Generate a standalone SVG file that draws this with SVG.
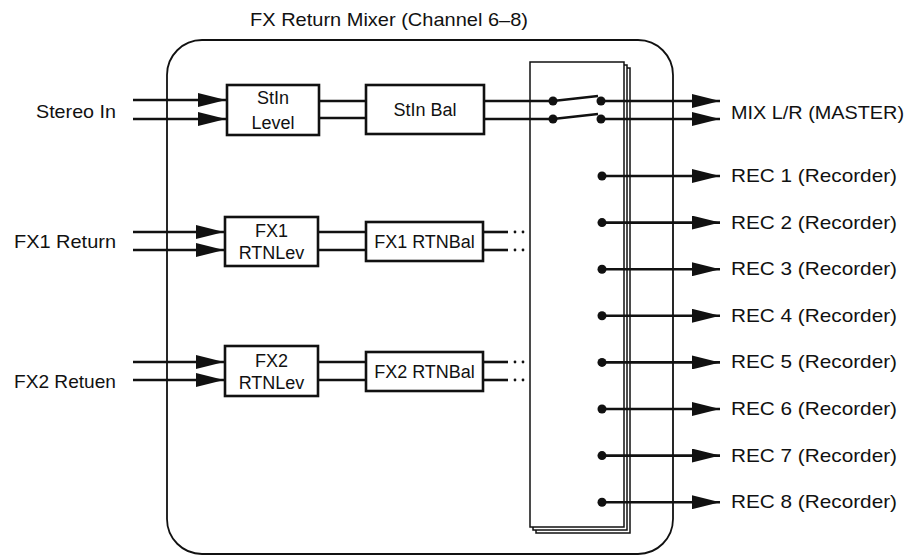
<svg xmlns="http://www.w3.org/2000/svg" width="908" height="555" viewBox="0 0 908 555">
<defs>
<style>
text{font-family:"Liberation Sans",Arial,Helvetica,sans-serif;fill:#111}
.lbl{font-size:19px}
.bx{font-size:18px;text-anchor:middle}
.box{fill:#fff;stroke:#111;stroke-width:2.6}
.sig{stroke:#111;stroke-width:2.6;fill:none}
.page{fill:#fff;stroke:#111;stroke-width:1.5}
.dot{fill:#111}
.arr{fill:#111}
</style>
<marker id="ah" viewBox="0 0 28 14" refX="28" refY="7" markerWidth="28" markerHeight="14" markerUnits="userSpaceOnUse" orient="auto">
<path d="M0,0 L28,7 L0,14 Z" class="arr"/>
</marker>
</defs>
<rect width="908" height="555" fill="#fff"/>
<text class="lbl" x="250" y="26" textLength="278" lengthAdjust="spacingAndGlyphs">FX Return Mixer (Channel 6–8)</text>
<g id="mixer">
<rect x="167" y="40" width="506" height="514" rx="35" ry="35" fill="none" stroke="#111" stroke-width="1.8"/>
</g>
<g id="bus">
<rect class="page" x="536" y="68" width="94" height="465"/>
<rect class="page" x="533" y="65" width="94" height="465"/>
<rect class="page" x="530" y="62" width="94" height="465"/>
</g>
<g id="labels">
<text class="lbl" x="116" y="118" text-anchor="end" textLength="80" lengthAdjust="spacingAndGlyphs">Stereo In</text>
<text class="lbl" x="116" y="248" text-anchor="end" textLength="102" lengthAdjust="spacingAndGlyphs">FX1 Return</text>
<text class="lbl" x="116" y="388" text-anchor="end" textLength="102" lengthAdjust="spacingAndGlyphs">FX2 Retuen</text>
</g>
<g id="connectors">
<!-- inputs -->
<line class="sig" x1="133" y1="100" x2="226" y2="100" marker-end="url(#ah)"/>
<line class="sig" x1="133" y1="119" x2="226" y2="119" marker-end="url(#ah)"/>
<line class="sig" x1="133" y1="232" x2="224" y2="232" marker-end="url(#ah)"/>
<line class="sig" x1="133" y1="250" x2="224" y2="250" marker-end="url(#ah)"/>
<line class="sig" x1="133" y1="362" x2="224" y2="362" marker-end="url(#ah)"/>
<line class="sig" x1="133" y1="380" x2="224" y2="380" marker-end="url(#ah)"/>
<!-- level to bal -->
<line class="sig" x1="319" y1="101" x2="366" y2="101"/>
<line class="sig" x1="319" y1="118" x2="366" y2="118"/>
<line class="sig" x1="318" y1="232" x2="366" y2="232"/>
<line class="sig" x1="318" y1="250" x2="366" y2="250"/>
<line class="sig" x1="318" y1="362" x2="366" y2="362"/>
<line class="sig" x1="318" y1="380" x2="366" y2="380"/>
<!-- bal out -->
<line class="sig" x1="484" y1="101" x2="553" y2="101"/>
<line class="sig" x1="484" y1="119" x2="553" y2="119"/>
<line class="sig" x1="483" y1="232" x2="508" y2="232"/>
<line class="sig" x1="483" y1="250" x2="508" y2="250"/>
<line class="sig" x1="483" y1="362" x2="508" y2="362"/>
<line class="sig" x1="483" y1="380" x2="508" y2="380"/>
<circle class="dot" cx="515" cy="232" r="1.4"/><circle class="dot" cx="523" cy="232" r="1.4"/>
<circle class="dot" cx="515" cy="250" r="1.4"/><circle class="dot" cx="523" cy="250" r="1.4"/>
<circle class="dot" cx="515" cy="362" r="1.4"/><circle class="dot" cx="523" cy="362" r="1.4"/>
<circle class="dot" cx="515" cy="380" r="1.4"/><circle class="dot" cx="523" cy="380" r="1.4"/>
<!-- switch -->
<circle class="dot" cx="553" cy="101" r="4.5"/>
<circle class="dot" cx="553" cy="119" r="4.5"/>
<line class="sig" x1="553" y1="101" x2="598" y2="96"/>
<line class="sig" x1="553" y1="119" x2="598" y2="114"/>
<circle class="dot" cx="601" cy="101" r="4.5"/>
<circle class="dot" cx="601" cy="119" r="4.5"/>
<line class="sig" x1="601" y1="101" x2="720" y2="101" marker-end="url(#ah)"/>
<line class="sig" x1="601" y1="119" x2="720" y2="119" marker-end="url(#ah)"/>
<!-- REC -->
<circle class="dot" cx="602" cy="176" r="4.5"/><line class="sig" x1="602" y1="176" x2="720" y2="176" marker-end="url(#ah)"/>
<circle class="dot" cx="602" cy="222.6" r="4.5"/><line class="sig" x1="602" y1="222.6" x2="720" y2="222.6" marker-end="url(#ah)"/>
<circle class="dot" cx="602" cy="269.2" r="4.5"/><line class="sig" x1="602" y1="269.2" x2="720" y2="269.2" marker-end="url(#ah)"/>
<circle class="dot" cx="602" cy="315.8" r="4.5"/><line class="sig" x1="602" y1="315.8" x2="720" y2="315.8" marker-end="url(#ah)"/>
<circle class="dot" cx="602" cy="362.4" r="4.5"/><line class="sig" x1="602" y1="362.4" x2="720" y2="362.4" marker-end="url(#ah)"/>
<circle class="dot" cx="602" cy="409" r="4.5"/><line class="sig" x1="602" y1="409" x2="720" y2="409" marker-end="url(#ah)"/>
<circle class="dot" cx="602" cy="455.6" r="4.5"/><line class="sig" x1="602" y1="455.6" x2="720" y2="455.6" marker-end="url(#ah)"/>
<circle class="dot" cx="602" cy="502.2" r="4.5"/><line class="sig" x1="602" y1="502.2" x2="720" y2="502.2" marker-end="url(#ah)"/>
</g>
<g id="stin-level"><rect class="box" x="227" y="85" width="92" height="50"/><text class="bx" x="273" y="104">StIn</text><text class="bx" x="273" y="129">Level</text></g>
<g id="stin-bal"><rect class="box" x="366" y="85" width="118" height="49"/><text class="bx" x="425" y="116">StIn Bal</text></g>
<g id="fx1-rtnlev"><rect class="box" x="225" y="217" width="93" height="49"/><text class="bx" x="271.5" y="237">FX1</text><text class="bx" x="271.5" y="259">RTNLev</text></g>
<g id="fx1-rtnbal"><rect class="box" x="366" y="222" width="117" height="39"/><text class="bx" x="424.5" y="248">FX1 RTNBal</text></g>
<g id="fx2-rtnlev"><rect class="box" x="225" y="346" width="93" height="50"/><text class="bx" x="271.5" y="367">FX2</text><text class="bx" x="271.5" y="389">RTNLev</text></g>
<g id="fx2-rtnbal"><rect class="box" x="366" y="352" width="117" height="39"/><text class="bx" x="424.5" y="378">FX2 RTNBal</text></g>
<g id="outputs">
<text class="lbl" x="731" y="119" textLength="173" lengthAdjust="spacingAndGlyphs">MIX L/R (MASTER)</text>
<text class="lbl" x="731" y="182" textLength="166" lengthAdjust="spacingAndGlyphs">REC 1 (Recorder)</text>
<text class="lbl" x="731" y="228.6" textLength="166" lengthAdjust="spacingAndGlyphs">REC 2 (Recorder)</text>
<text class="lbl" x="731" y="275.2" textLength="166" lengthAdjust="spacingAndGlyphs">REC 3 (Recorder)</text>
<text class="lbl" x="731" y="321.8" textLength="166" lengthAdjust="spacingAndGlyphs">REC 4 (Recorder)</text>
<text class="lbl" x="731" y="368.4" textLength="166" lengthAdjust="spacingAndGlyphs">REC 5 (Recorder)</text>
<text class="lbl" x="731" y="415" textLength="166" lengthAdjust="spacingAndGlyphs">REC 6 (Recorder)</text>
<text class="lbl" x="731" y="461.6" textLength="166" lengthAdjust="spacingAndGlyphs">REC 7 (Recorder)</text>
<text class="lbl" x="731" y="508.2" textLength="166" lengthAdjust="spacingAndGlyphs">REC 8 (Recorder)</text>
</g>
</svg>
